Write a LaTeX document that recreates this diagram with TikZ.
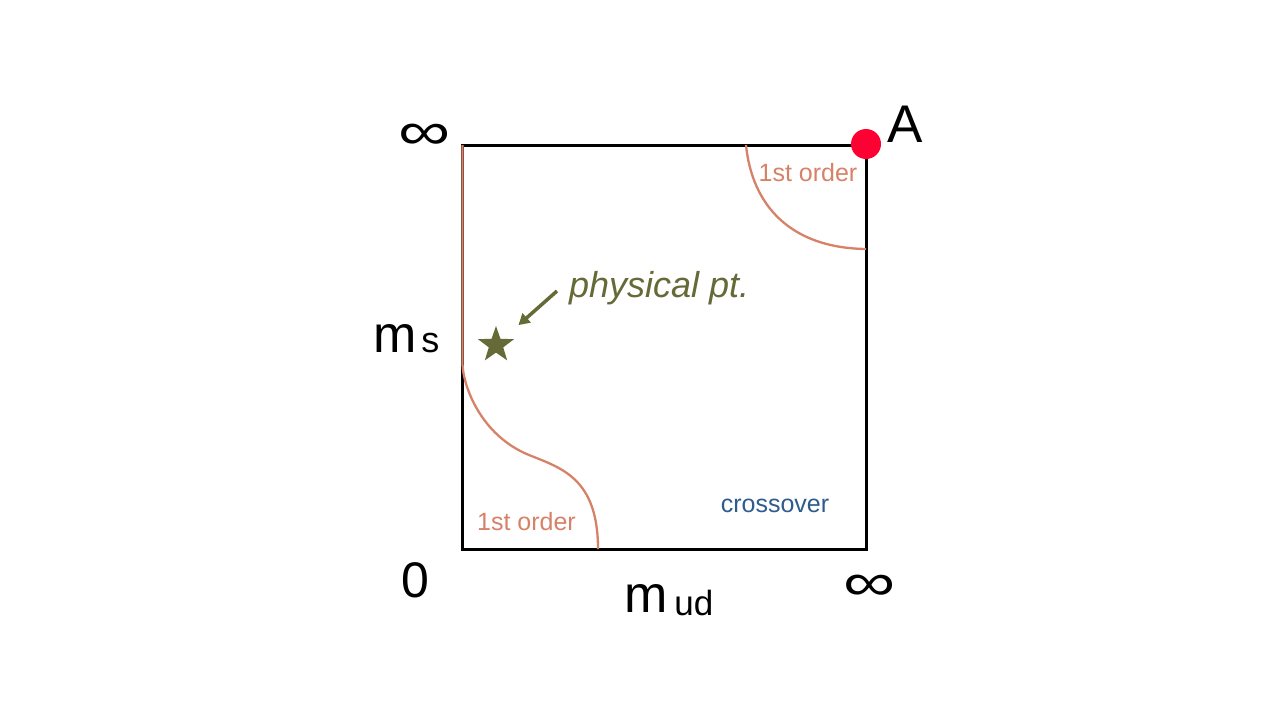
\documentclass[tikz,border=0pt]{standalone}
\usepackage{fontspec}
\setmainfont{Liberation Sans}
\usetikzlibrary{shapes.geometric,arrows.meta}
\definecolor{lineor}{RGB}{214,130,104}
\definecolor{olivep}{RGB}{101,106,55}
\definecolor{bluec}{RGB}{46,92,140}
\definecolor{reddot}{RGB}{255,0,50}
\newcommand\fsz[1]{\fontsize{#1}{#1}\selectfont}
\newcommand\wideinf{\scalebox{1.38}[1]{\fsz{53}∞}}
\begin{document}
\begin{tikzpicture}[x=1pt,y=-1pt,
  lab/.style={inner sep=0pt,outer sep=0pt},
  phase/.style={draw=lineor,line width=2.3pt},
  frame/.style={draw=black,line width=3pt}]
\fill[white] (0,0) rectangle (1280,720);
\useasboundingbox (0,0) rectangle (1280,720);
% frame
\coordinate (sw) at (462,549);
\coordinate (ne) at (866,145);
\draw[frame] (sw) rectangle (ne);
% phase boundaries
\coordinate (lt) at (462.5,145);
\coordinate (lb) at (598,549);
\coordinate (rt) at (746,145);
\coordinate (rb) at (866,249);
\draw[phase] (lt) -- (462.5,364) .. controls (463,385) and (480,435) .. (529,455)
  .. controls (561,468) and (598,478) .. (lb);
\draw[phase] (rt) .. controls (752,205) and (790,248) .. (rb);
% point A
\node[circle,fill=reddot,inner sep=0pt,minimum size=30pt] (Adot) at (866,144) {};
\node[lab,font=\fsz{53}] (A) at (905,124) {A};
% axis labels
\node[lab] (inftop) at (425,137) {\wideinf};
\node[lab,anchor=base west] (ms) at (373,352) {\fsz{52}m\hspace{5pt}\fsz{36}s};
\node[lab,anchor=base] (zero) at (415.5,597) {\fsz{50}0};
\node[lab,anchor=base west] (mud) at (624,612) {\fsz{52}m\hspace{7pt}\raisebox{-3pt}{\fsz{35}ud}};
\node[lab] (infbot) at (870,588) {\wideinf};
% region labels
\node[lab,text=lineor,font=\fsz{25}] (fo1) at (808,173) {1st order};
\node[lab,text=lineor,font=\fsz{25}] (fo2) at (526.5,521.5) {1st order};
\node[lab,text=bluec,font=\fsz{25}] (cross) at (775,506) {crossover};
% physical point
\node[lab,text=olivep,anchor=base west,font=\fsz{36}\itshape] (phys) at (569,297) {physical pt.};
\node[star,star points=5,star point ratio=2.5,fill=olivep,inner sep=0pt,minimum size=38pt] (star) at (496,345) {};
\coordinate (arrS) at (557,291);
\draw[olivep,line width=3.5pt,-{Triangle[length=11pt,width=12pt]},shorten >=30pt] (arrS) -- (star.center);
\end{tikzpicture}
\end{document}
